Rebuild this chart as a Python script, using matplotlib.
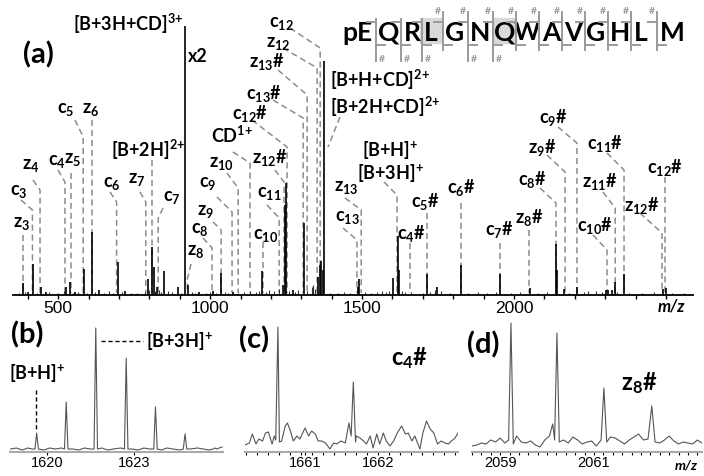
import matplotlib.pyplot as plt
from matplotlib.ticker import MultipleLocator

plt.rcParams['font.family'] = ['Lato', 'DejaVu Sans']
plt.rcParams['mathtext.default'] = 'regular'

# ---------------- data: (a) full spectrum, centroid peaks (m/z, intensity a.u.)
peak_mz = [384, 400, 416, 443, 460, 526, 540, 555, 584, 610, 633, 697, 720,
           795, 809, 814, 824, 848, 894, 917, 927, 962, 1009, 1036, 1075,
           1172, 1240, 1246, 1250, 1273, 1309, 1355, 1360, 1365, 1370, 1375,
           1487, 1490, 1601, 1617, 1620, 1713, 1746, 1826, 1954, 2051, 2137,
           2141, 2165, 2207, 2302, 2310, 2322, 2333, 2363, 2491, 2499]
peak_int = [12, 3, 31, 8, 3, 8, 13, 3, 26, 63, 5, 33, 4,
            16, 48, 28, 8, 24, 8, 269, 10, 3, 4, 22, 3,
            24, 10, 90, 112, 5, 72, 18, 30, 34, 25, 234,
            8, 16, 17, 59, 25, 21, 8, 30, 21, 7, 51,
            25, 6, 8, 5, 5, 5, 13, 21, 6, 7]
# small baseline signals
noise_mz = [372, 392, 430, 470, 500, 520, 548, 566, 595, 622, 650, 668, 680,
            710, 740, 760, 785, 800, 818, 830, 838, 860, 875, 905, 940, 950,
            985, 1000, 1020, 1050, 1060, 1090, 1110, 1130, 1150, 1160, 1185,
            1195, 1210, 1225, 1260, 1280, 1290, 1320, 1335, 1340, 1345, 1395,
            1420, 1440, 1460, 1510, 1530, 1550, 1565, 1580, 1590, 1630, 1640,
            1660, 1700, 1725, 1740, 1760, 1790, 1850, 1880, 1910, 1940, 1990,
            2020, 2080, 2110, 2180, 2230, 2245, 2270, 2290, 2340, 2380, 2420,
            2460, 2520, 2560]
noise_int = [2, 3, 2, 3, 2, 4, 2, 3, 2, 3, 2, 4, 2,
             3, 2, 2, 3, 5, 4, 5, 3, 4, 3, 2, 3, 2,
             2, 3, 2, 3, 2, 2, 3, 4, 3, 4, 3,
             5, 4, 6, 4, 3, 5, 4, 8, 10, 6, 2,
             2, 3, 2, 3, 2, 3, 4, 3, 4, 4, 3,
             3, 2, 3, 5, 4, 2, 2, 3, 2, 3, 2,
             3, 2, 3, 2, 3, 4, 4, 3, 3, 2, 2,
             3, 2, 2]

# fragment / ion assignments (label, m/z of the assigned peak)
ion_names = ['c$_3$', 'z$_3$', 'z$_4$', 'c$_4$', 'z$_5$', 'c$_5$', 'z$_6$',
             'c$_6$', 'z$_7$', '[B+2H]$^{2\\!+}$', 'c$_7$', 'z$_8$', 'c$_8$',
             'z$_9$', 'c$_9$', 'z$_{10}$', 'CD$^{1\\!+}$', 'c$_{10}$',
             'c$_{11}$', 'z$_{12}$#', 'c$_{12}$#', 'c$_{13}$#', 'z$_{13}$#',
             'z$_{12}$', 'c$_{12}$', 'c$_{13}$', 'z$_{13}$', '[B+3H]$^{+}$',
             'c$_4$#', 'c$_5$#', 'c$_6$#', 'c$_7$#', 'z$_8$#', 'c$_8$#',
             'z$_9$#', 'c$_9$#', 'c$_{10}$#', 'z$_{11}$#', 'c$_{11}$#',
             'z$_{12}$#', 'c$_{12}$#']
ion_mz = [415, 383, 440, 522, 541, 582, 610, 692, 788, 808, 829, 925, 1006,
          1036, 1072, 1092, 1131, 1174, 1227, 1243, 1253, 1306, 1319, 1352,
          1362, 1483, 1497, 1615, 1658, 1713, 1826, 1954, 2049, 2138, 2168,
          2207, 2306, 2333, 2362, 2487, 2497]

# peptide sequence
seq = ['pE', 'Q', 'R', 'L', 'G', 'N', 'Q', 'W', 'A', 'V', 'G', 'H', 'L', 'M']
c_hash = [4, 5, 6, 7, 8, 9, 10, 11, 12, 13]   # c#-ions observed (cleavage after residue n)
z_hash = [13, 12, 11, 9, 8]                   # z#-ions observed

# ---------------- data: zoomed isotope clusters
b_mz = [1619.65, 1620.67, 1621.69, 1622.74, 1623.75, 1624.77, 1625.80]
b_int = [19, 50, 124, 94, 45, 18, 4]
b_noise_mz = [1618.75, 1618.95, 1619.15, 1619.35, 1619.5, 1619.9, 1620.1,
              1620.3, 1620.5, 1620.9, 1621.1, 1621.3, 1621.5, 1621.9, 1622.1,
              1622.3, 1622.55, 1622.95, 1623.15, 1623.35, 1623.55, 1623.95,
              1624.15, 1624.35, 1624.6, 1624.95, 1625.2, 1625.4, 1625.6,
              1625.95, 1626.05]
b_noise_int = [3, 4, 2, 4, 3, 2, 4, 3, 4, 3, 2, 4, 3, 4, 2, 3, 4, 3, 2, 4, 3,
               2, 4, 3, 2, 3, 4, 3, 2, 4, 5]

c_mz = [1660.18, 1660.24, 1660.28, 1660.33, 1660.37, 1660.42, 1660.46,
        1660.50, 1660.55, 1660.58, 1660.60, 1660.63, 1660.65, 1660.68,
        1660.73, 1660.76, 1660.80, 1660.84, 1660.89, 1660.93, 1661.00,
        1661.05, 1661.09, 1661.14, 1661.18, 1661.23, 1661.28, 1661.34,
        1661.39, 1661.43, 1661.49, 1661.55, 1661.60, 1661.63, 1661.66,
        1661.69, 1661.70, 1661.75, 1661.80, 1661.84, 1661.89, 1661.93,
        1661.98, 1662.02, 1662.07, 1662.11, 1662.16, 1662.21, 1662.26,
        1662.32, 1662.37, 1662.41, 1662.46, 1662.50, 1662.57, 1662.61,
        1662.66, 1662.71, 1662.76, 1662.81, 1662.86, 1662.91, 1662.96,
        1663.00, 1663.05, 1663.09]
c_int = [7, 9, 18, 8, 13, 11, 19, 20, 8, 16, 12, 125, 10, 11, 26, 29, 21,
         11, 16, 13, 24, 16, 21, 18, 11, 11, 9, 3, 9, 8, 11, 9, 29, 16, 70,
         10, 16, 14, 11, 8, 16, 4, 18, 8, 19, 11, 6, 11, 19, 26, 18, 19, 11,
         16, 3, 19, 31, 23, 19, 8, 11, 9, 8, 11, 14, 19]

d_mz = [2058.40, 2058.50, 2058.60, 2058.70, 2058.80, 2058.90, 2059.00,
        2059.10, 2059.18, 2059.23, 2059.28, 2059.35, 2059.45, 2059.55,
        2059.65, 2059.75, 2059.85, 2059.95, 2060.05, 2060.12, 2060.16,
        2060.21, 2060.26, 2060.35, 2060.45, 2060.55, 2060.65, 2060.75,
        2060.85, 2060.95, 2061.05, 2061.15, 2061.21, 2061.27, 2061.35,
        2061.45, 2061.55, 2061.65, 2061.75, 2061.85, 2061.95, 2062.05,
        2062.15, 2062.23, 2062.30, 2062.40, 2062.50, 2062.60, 2062.70,
        2062.80, 2062.90, 2063.00, 2063.10, 2063.20, 2063.30]
d_int = [6, 7, 9, 8, 12, 10, 14, 9, 12, 129, 8, 16, 10, 9, 11, 7, 5, 12,
         16, 28, 12, 119, 10, 12, 9, 15, 12, 8, 10, 11, 6, 12, 64, 10, 15, 14,
         11, 8, 12, 15, 18, 12, 13, 46, 10, 9, 12, 16, 11, 8, 10, 9, 8, 12, 9]

# ---------------- layout helpers (reference pixel frame 704 x 476)
W, H = 704, 476
AX_L, AX_R, MZ_L, MZ_R = 13.3, 693.0, 352, 2589
BASE = 295
LBL = 13


def mz_px(mz):
    return AX_L + (mz - MZ_L) * (AX_R - AX_L) / (MZ_R - MZ_L)


def frame(left, right, bottom, top):
    return [left / W, 1 - bottom / H, (right - left) / W, (bottom - top) / H]


fig = plt.figure(figsize=(W / 100, H / 100), dpi=100)
ov = fig.add_axes([0, 0, 1, 1])
ov.set_xlim(0, W)
ov.set_ylim(H, 0)
ov.axis('off')
ov.set_zorder(0)

# ---------------- (a) main spectrum
ax = fig.add_axes(frame(AX_L, AX_R, BASE, 0))
ax.set_zorder(1)
ax.patch.set_alpha(0)
ax.vlines(noise_mz, 0, noise_int, color='#333333', lw=0.8)
ax.vlines(peak_mz, 0, peak_int, color='black', lw=1.2)
ax.set_xlim(MZ_L, MZ_R)
ax.set_ylim(0, BASE)
for s in ['top', 'left', 'right']:
    ax.spines[s].set_visible(False)
ax.spines['bottom'].set_linewidth(1.3)
ax.set_yticks([])
ax.set_xticks([500, 1000, 1500, 2000])
ax.set_xticklabels(['500', '1000', '1500', '2000'], fontfamily='Liberation Sans', fontsize=12.5)
ax.xaxis.set_minor_locator(MultipleLocator(100))
ax.tick_params(axis='x', which='both', direction='out', length=3, width=1, pad=1)
ov.text(671, 307, 'm/z', fontsize=12, fontweight='bold', fontstyle='italic',
        ha='center', va='center')
ov.text(38, 55, '(a)', fontsize=21, fontweight='bold', ha='center', va='center')

# label layout: text x, text y, leader start x, y (None = straight), knee y
layout = [(19, 192, 21, 200, 210), (22, 223, None, None, 235),
          (31, 165, 33, 180, 190), (57, 161, 58, 170, 182),
          (73, 160, None, None, 173), (66, 110, 75, 120, 137),
          (91, 110, None, None, 120), (112, 183, 110, 192, 202),
          (137, 180, 140, 192, 202), (148, 150, None, None, 160),
          (172, 198, 163, 208, 218), (196, 252, 191, 264, 279),
          (200, 229, 203, 238, 248), (206, 211, 213, 222, 230),
          (208, 183, 217, 197, 212), (221, 163, 227, 173, 188),
          (232, 135, 233, 152, 163), (266, 235, None, None, 242),
          (269, 194, 267, 205, 218), (270, 158, 275, 170, 182),
          (250, 113, 252, 120, 147), (264, 93, 273, 100, 118),
          (267, 62, 278, 70, 95), (278, 44, 283, 48, 68),
          (281, 23, 290, 28, 48), (347, 218, 343, 228, 240),
          (346, 188, 345, 198, 210), (390, 174, 384, 182, 195),
          (411, 233, None, None, 243), (425, 202, None, None, 213),
          (461, 188, None, None, 203), (499, 230, None, None, 243),
          (529, 218, None, None, 230), (532, 180, 540, 188, 203),
          (542, 147, 547, 155, 172), (553, 118, 558, 127, 143),
          (595, 225, 593, 235, 250), (600, 182, 603, 192, 208),
          (605, 143, 607, 153, 170), (642, 205, 640, 213, 233),
          (665, 167, None, None, 177)]

dash = dict(color='#8c8c8c', lw=1.1, ls=(0, (4, 2.5)))
for name, mz, (tx, ty, sx, sy, ky) in zip(ion_names, ion_mz, layout):
    kx = mz_px(mz)
    ov.text(tx, ty, name, fontsize=LBL, fontweight='bold', ha='center', va='center')
    if sx is None:
        ov.plot([kx, kx], [ky, BASE - 2], **dash)
    else:
        ov.plot([sx, kx, kx], [sy, ky, BASE - 2], **dash)

ov.text(184, 24, '[B+3H+CD]$^{3\\!+}$', fontsize=LBL, fontweight='bold', ha='right', va='center')
ov.text(198, 56, 'x2', fontsize=LBL, fontweight='bold', ha='center', va='center')
ov.text(330, 80, '[B+H+CD]$^{2\\!+}$', fontsize=LBL, fontweight='bold', ha='left', va='center')
ov.text(330, 107, '[B+2H+CD]$^{2\\!+}$', fontsize=LBL, fontweight='bold', ha='left', va='center')
ov.plot([340, 328], [117, 147], **dash)
ov.text(362, 151, '[B+H]$^{+}$', fontsize=LBL, fontweight='bold', ha='left', va='center')

# ---------------- peptide sequence with fragment brackets
seq_x = [357, 389, 412, 431, 455, 480, 505, 527, 551, 573, 596, 620, 641, 672]
for i in (3, 6):
    ov.add_patch(plt.Rectangle((seq_x[i] - 11, 18), 22, 25, color='#d9d9d9', zorder=0))
for x, aa in zip(seq_x, seq):
    ov.text(x, 33, aa, fontsize=19 if aa != 'W' else 18, fontweight='bold',
            ha='center', va='center', zorder=2)
gray = '#9a9a9a'
for n in range(1, len(seq)):
    gx = (seq_x[n - 1] + seq_x[n]) / 2 + (3 if n == 1 else 0)
    ov.plot([gx - 9, gx, gx], [22, 22, 12 if n in c_hash else 19], color=gray, lw=1.4)
    ov.plot([gx, gx], [22, 45], color=gray, lw=1.4)
    ov.plot([gx + 9, gx, gx], [45, 45, 61 if (len(seq) - n) in z_hash else 50], color=gray, lw=1.4)
    if n in c_hash:
        ov.text(gx - 5, 11, '#', fontsize=7.5, color=gray, fontweight='bold', ha='center', va='center')
    if (len(seq) - n) in z_hash:
        ov.text(gx + 6, 60, '#', fontsize=7.5, color=gray, fontweight='bold', ha='center', va='center')


# ---------------- (b), (c), (d) zoomed panels
def profile(mz, inten):
    order = sorted(range(len(mz)), key=lambda k: mz[k])
    return [mz[k] for k in order], [inten[k] for k in order]


def panel(box, xlim, ticks):
    a = fig.add_axes(frame(*box))
    a.set_zorder(1)
    a.patch.set_alpha(0)
    a.set_xlim(*xlim)
    a.set_ylim(0, box[2] - box[3])
    for s in ['top', 'left', 'right']:
        a.spines[s].set_visible(False)
    a.spines['bottom'].set_color('#aaaaaa')
    a.spines['bottom'].set_linewidth(1.5)
    a.set_yticks([])
    a.set_xticks(ticks)
    a.set_xticklabels([str(t) for t in ticks], fontfamily='Liberation Sans', fontsize=10.5)
    a.tick_params(axis='x', which='both', direction='out', length=2, width=0.8, pad=1)
    return a


# (b)
axb = panel((10, 223, 452, 318), (1618.73, 1626.08), [1620, 1623])
bx = b_noise_mz + [m + d for m in b_mz for d in (-0.06, 0, 0.06)]
by = b_noise_int + [v for h in b_int for v in (3, h, 3)]
axb.plot(*profile(bx, by), color='#555555', lw=0.8)
ov.text(27, 335, '(b)', fontsize=21, fontweight='bold', ha='center', va='center')
ov.text(37, 374, '[B+H]$^{+}$', fontsize=LBL, fontweight='bold', ha='center', va='center')
ov.plot([36, 36], [390, 430], color='black', lw=1.0, ls=(0, (3, 2)))
ov.text(146, 342, '[B+3H]$^{+}$', fontsize=LBL, fontweight='bold', ha='left', va='center')
ov.plot([101, 143], [341, 341], color='black', lw=1.0, ls=(0, (3, 2)))

# (c)
axc = panel((245, 458, 452, 318), (1660.18, 1663.09), [1661, 1662])
axc.xaxis.set_minor_locator(MultipleLocator(0.15))
axc.plot(c_mz, c_int, color='#555555', lw=0.8)
ov.text(254, 340, '(c)', fontsize=21, fontweight='bold', ha='center', va='center')
ov.text(410, 358, 'c$_4$#', fontsize=17, fontweight='bold', ha='center', va='center')

# (d)
axd = panel((472, 702, 452, 318), (2058.40, 2063.30), [2059, 2061])
axd.xaxis.set_minor_locator(MultipleLocator(0.2))
axd.plot(d_mz, d_int, color='#555555', lw=0.8)
ov.text(483, 345, '(d)', fontsize=21, fontweight='bold', ha='center', va='center')
ov.text(639, 383, 'z$_8$#', fontsize=17, fontweight='bold', ha='center', va='center')
ov.text(686, 465, 'm/z', fontsize=10, fontweight='bold', fontstyle='italic',
        ha='center', va='center')

fig.savefig('out.png', dpi=100)
